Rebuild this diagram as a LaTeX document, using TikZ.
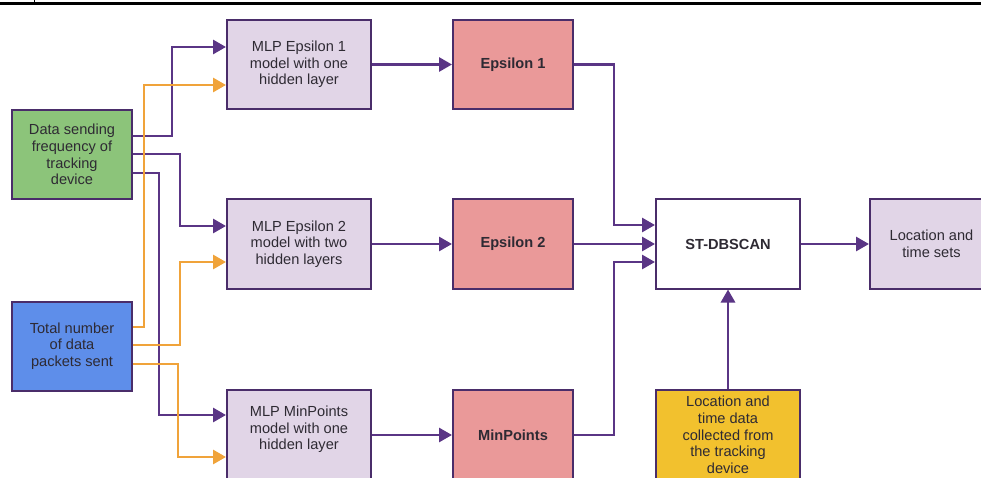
\documentclass[tikz,border=0pt]{standalone}
\usepackage{fontspec}
\setmainfont{Liberation Sans}
\usetikzlibrary{arrows.meta}
\definecolor{boxline}{HTML}{4A2D6A}
\definecolor{parrow}{HTML}{5A3585}
\definecolor{oarrow}{HTML}{F0A33A}
\definecolor{greenf}{HTML}{8CC47A}
\definecolor{bluef}{HTML}{5E8EEA}
\definecolor{lavf}{HTML}{E1D5E7}
\definecolor{redf}{HTML}{EA9999}
\definecolor{yellowf}{HTML}{F2C12E}
\definecolor{txt}{HTML}{2E2A33}
\tikzset{
  basebox/.style={draw=boxline, line width=2pt, inner sep=0pt, align=center,
    text=txt, font=\fontsize{14.6pt}{16.7pt}\selectfont, minimum width=144pt, minimum height=89pt},
  greenbox/.style={basebox, fill=greenf, minimum width=120pt},
  bluebox/.style={basebox, fill=bluef, minimum width=120pt},
  mlpbox/.style={basebox, fill=lavf},
  redbox/.style={basebox, fill=redf, minimum width=120pt, font=\fontsize{14.6pt}{16.7pt}\selectfont\bfseries},
  stbox/.style={basebox, fill=white, font=\fontsize{14.6pt}{16.7pt}\selectfont\bfseries},
  yellowbox/.style={basebox, fill=yellowf},
  parr/.style={draw=parrow, line width=2.8pt, -{Triangle[length=13pt,width=14pt]}},
  oarr/.style={draw=oarrow, line width=2.8pt, -{Triangle[length=13pt,width=14pt]}},
}
\begin{document}
\begin{tikzpicture}[x=1pt,y=-1pt]
\useasboundingbox (0,0) rectangle (981,478);
\clip (0,0) rectangle (981,478);
\fill[white] (0,0) rectangle (981,478);
% top rule
\draw[line width=2.8pt] (0,3.5) -- (981,3.5);
\draw[line width=1.6pt] (34.5,0) -- (34.5,3.5);
% nodes
\node[greenbox] (g) at (72,154.5) {Data sending\\frequency of\\tracking\\device};
\node[bluebox] (b) at (72,346) {Total number\\of data\\packets sent};
\node[mlpbox] (m1) at (299,64.5) {MLP Epsilon 1\\model with one\\hidden layer};
\node[mlpbox] (m2) at (299,244) {MLP Epsilon 2\\model with two\\hidden layers};
\node[mlpbox, minimum height=90pt] (m3) at (299,435) {MLP MinPoints\\model with one\\hidden layer\\[-2.7pt]};
\node[redbox] (e1) at (513,64.5) {Epsilon 1};
\node[redbox] (e2) at (513,244) {Epsilon 2};
\node[redbox, minimum height=90pt] (e3) at (513,435) {MinPoints};
\node[stbox] (st) at (728,244) {ST-DBSCAN};
\node[mlpbox, minimum width=123pt] (ls) at (931.5,244) {Location and\\time sets};
\node[yellowbox, minimum height=90pt] (y) at (728,435) {Location and\\time data\\collected from\\the tracking\\device};
% connectors from green
\draw[parr] (g.east |- 0,136) -- (172,136) -- (172,47) -- (m1.west |- 0,47);
\draw[parr] (g.east |- 0,154) -- (180,154) -- (180,226) -- (m2.west |- 0,226);
\draw[parr] (g.east |- 0,173) -- (159,173) -- (159,415) -- (m3.west |- 0,415);
% connectors from blue
\draw[oarr] (b.east |- 0,327) -- (144,327) -- (144,85) -- (m1.west |- 0,85);
\draw[oarr] (b.east |- 0,345) -- (180,345) -- (180,262) -- (m2.west |- 0,262);
\draw[oarr] (b.east |- 0,364) -- (178,364) -- (178,457) -- (m3.west |- 0,457);
% MLP to outputs
\draw[parr] (m1) -- (e1);
\draw[parr] (m2) -- (e2);
\draw[parr] (m3.east |- 0,435) -- (e3.west |- 0,435);
% to ST-DBSCAN
\draw[parr] (e1.east) -- (614,64.5) -- (614,225) -- (st.west |- 0,225);
\draw[parr] (e2) -- (st);
\draw[parr] (e3.east |- 0,435) -- (614,435) -- (614,262) -- (st.west |- 0,262);
\draw[parr] (st) -- (ls);
\draw[parr] (y) -- (st);
\end{tikzpicture}
\end{document}
